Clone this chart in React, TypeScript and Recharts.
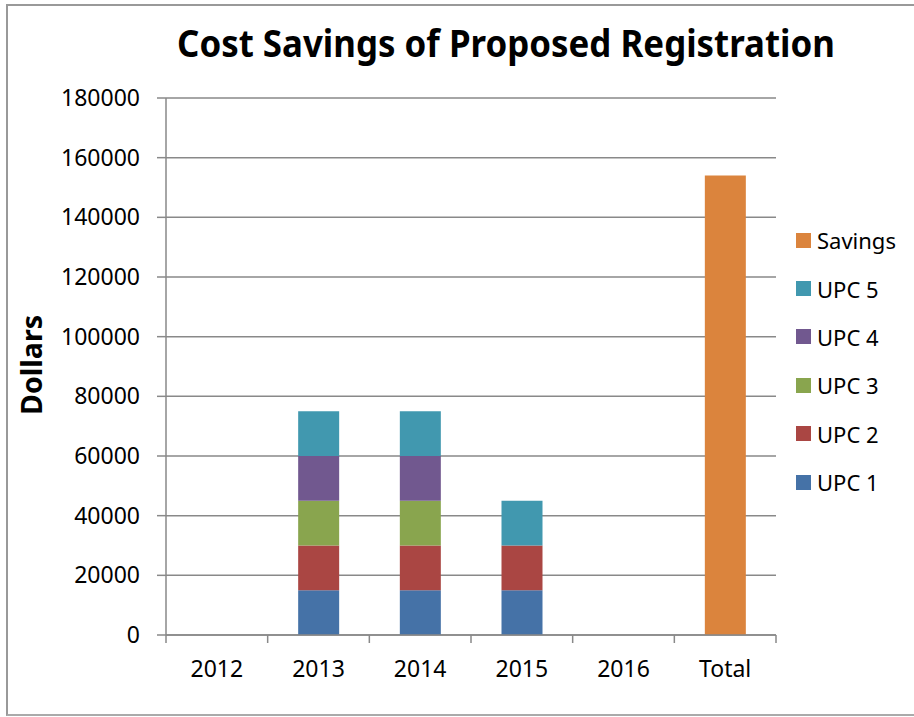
import { BarChart, Bar, XAxis, YAxis, CartesianGrid } from "recharts";

// Chart data
const CATEGORIES = ["2012", "2013", "2014", "2015", "2016", "Total"];
const UPC1 = [0, 15000, 15000, 15000, 0, 0];
const UPC2 = [0, 15000, 15000, 15000, 0, 0];
const UPC3 = [0, 15000, 15000, 0, 0, 0];
const UPC4 = [0, 15000, 15000, 0, 0, 0];
const UPC5 = [0, 15000, 15000, 15000, 0, 0];
const SAVINGS = [0, 0, 0, 0, 0, 154000];
const Y_TICKS = [0, 20000, 40000, 60000, 80000, 100000, 120000, 140000, 160000, 180000];

// bottom-to-top stack order
const SERIES = [
  { key: "upc1", name: "UPC 1", color: "#4572a7", values: UPC1 },
  { key: "upc2", name: "UPC 2", color: "#aa4643", values: UPC2 },
  { key: "upc3", name: "UPC 3", color: "#89a54e", values: UPC3 },
  { key: "upc4", name: "UPC 4", color: "#71588f", values: UPC4 },
  { key: "upc5", name: "UPC 5", color: "#4198af", values: UPC5 },
  { key: "savings", name: "Savings", color: "#db843d", values: SAVINGS },
];

const data = CATEGORIES.map((cat, i) => {
  const row: Record<string, string | number> = { cat };
  SERIES.forEach((s) => (row[s.key] = s.values[i]));
  return row;
});

const FONT = "'Noto Sans', 'Open Sans', sans-serif";
const AXIS = "#898989";

// x tick: label centred, tick marks on category boundaries
function XTick(props: any) {
  const { x, y, payload, index, visibleTicksCount } = props;
  const half = payload?.offset ?? 50.8;
  const y0 = y - 8;
  return (
    <g>
      <line x1={x - half} x2={x - half} y1={y0} y2={y0 + 8} stroke={AXIS} strokeWidth={1.5} />
      {index === visibleTicksCount - 1 && (
        <line x1={x + half} x2={x + half} y1={y0} y2={y0 + 8} stroke={AXIS} strokeWidth={1.5} />
      )}
      <text x={x} y={y + 34} textAnchor="middle" fontSize={23} fontFamily={FONT} fill="#000">
        {payload.value}
      </text>
    </g>
  );
}

export default function App() {
  return (
    <div style={{ position: "absolute", left: 0, top: 0, width: 914, height: 717, background: "#fff", overflow: "hidden" }}>
      <div
        style={{
          position: "absolute",
          left: 6,
          top: 4,
          width: 930,
          height: 712,
          boxSizing: "border-box",
          borderTop: "2px solid #999",
          borderLeft: "2px solid #999",
          borderBottom: "2px solid #aaa",
        }}
      />
      <BarChart
        width={914}
        height={717}
        data={data}
        margin={{ top: 98, right: 138, left: 0, bottom: 32 }}
        barCategoryGap="30%"
      >
        <CartesianGrid vertical={false} stroke={AXIS} strokeWidth={1.5} />
        <XAxis
          dataKey="cat"
          height={50}
          axisLine={{ stroke: AXIS, strokeWidth: 1.5 }}
          tickLine={false}
          tickSize={8}
          tickMargin={0}
          tick={<XTick />}
          interval={0}
        />
        <YAxis
          width={166}
          domain={[0, 180000]}
          ticks={Y_TICKS}
          interval={0}
          axisLine={{ stroke: AXIS, strokeWidth: 1.5 }}
          tickLine={{ stroke: AXIS, strokeWidth: 1.5 }}
          tickSize={9}
          tickMargin={17}
          tick={{ fill: "#000", fontSize: 23, fontFamily: FONT }}
        />
        {SERIES.map((s) => (
          <Bar key={s.key} dataKey={s.key} name={s.name} stackId="a" fill={s.color} isAnimationActive={false} />
        ))}
      </BarChart>

      {/* title and axis label */}
      <svg width={914} height={717} style={{ position: "absolute", left: 0, top: 0, pointerEvents: "none" }}>
        <text
          x={506}
          y={57}
          textAnchor="middle"
          fontSize={38}
          fontWeight="bold"
          fontFamily={FONT}
          textLength={658}
          lengthAdjust="spacingAndGlyphs"
          fill="#000"
        >
          Cost Savings of Proposed Registration
        </text>
        <text
          x={42}
          y={365}
          transform="rotate(-90 42 365)"
          textAnchor="middle"
          fontSize={28}
          fontWeight="bold"
          fontFamily={FONT}
          textLength={100}
          lengthAdjust="spacingAndGlyphs"
          fill="#000"
        >
          Dollars
        </text>
      </svg>

      {/* legend, top-to-bottom is reverse stack order */}
      <div style={{ position: "absolute", left: 796, top: 216, fontFamily: FONT, fontSize: 22, color: "#000" }}>
        {[...SERIES].reverse().map((s) => (
          <div key={s.key} style={{ display: "flex", alignItems: "center", height: 48.4 }}>
            <span style={{ display: "inline-block", width: 15, height: 15, background: s.color, marginRight: 6 }} />
            <span>{s.name}</span>
          </div>
        ))}
      </div>
    </div>
  );
}
